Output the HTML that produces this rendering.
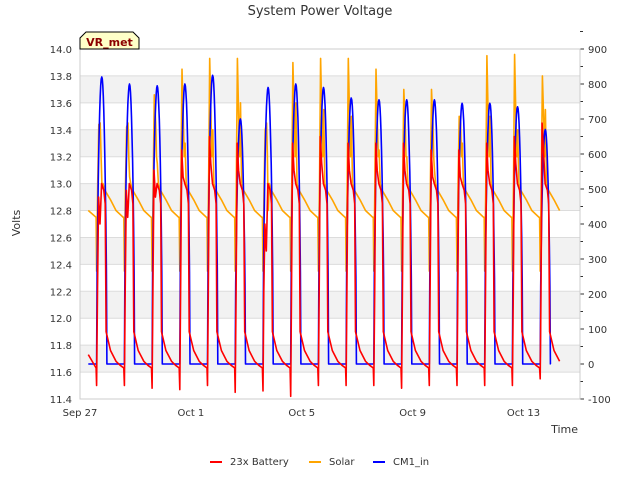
<!DOCTYPE html>
<html><head><meta charset="utf-8"><style>
body{margin:0;background:#fff;font-family:"Liberation Sans","DejaVu Sans",sans-serif}
svg text{font-family:"DejaVu Sans","Liberation Sans",sans-serif}
</style></head><body>
<svg id="c" width="640" height="480" viewBox="0 0 640 480"></svg>
<script>
// ---- data (per-day values) ----
const dayTicks = ["Sep 27","Oct 1","Oct 5","Oct 9","Oct 13"];
const dayTickPos = [0,4,8,12,16];
const leftTicks = [11.4,11.6,11.8,12.0,12.2,12.4,12.6,12.8,13.0,13.2,13.4,13.6,13.8,14.0];
const rightTicks = [-100,0,100,200,300,400,500,600,700,800,900];
const cm1Peak = [820,800,795,800,825,700,790,800,790,760,755,755,755,745,745,735,670];
const solarPeak = [13.44,13.42,13.66,13.85,13.93,13.93,13.40,13.90,13.93,13.93,13.85,13.70,13.70,13.50,13.95,13.96,13.80];
const solarSecond = [13.0,13.05,13.15,13.3,13.4,13.6,12.8,13.6,13.55,13.5,13.25,13.2,13.1,13.3,13.5,13.4,13.55];
const battPeak = [12.9,12.95,13.1,13.25,13.35,13.3,12.7,13.3,13.35,13.3,13.3,13.3,13.25,13.25,13.3,13.35,13.45];
const battMin = [11.5,11.5,11.48,11.47,11.5,11.45,11.46,11.42,11.5,11.5,11.5,11.48,11.5,11.5,11.5,11.5,11.55];

const svg=document.getElementById('c');
const NS='http://www.w3.org/2000/svg';
const L=80,R=580,T=49,B=399;
const X=d=>L+d*27.72;
const YL=v=>B-(v-11.4)/2.6*(B-T);
const YR=v=>B-(v+100)/1000*(B-T);
function el(t,a,p){const e=document.createElementNS(NS,t);for(const k in a)e.setAttribute(k,a[k]);(p||svg).appendChild(e);return e;}

for(let v=11.6;v<14;v+=0.4){const r=el('rect',{x:L,y:YL(v+0.2),width:R-L,height:YL(v)-YL(v+0.2),fill:'#f2f2f2'});

}
leftTicks.forEach(v=>{const g=el('line',{x1:L,x2:R,y1:YL(v),y2:YL(v),stroke:'#dcdcdc','stroke-width':1});


const t=el('text',{x:72,y:YL(v)+4,'text-anchor':'end','font-size':10,fill:'#333'});t.textContent=v.toFixed(1);

});
rightTicks.forEach(v=>{el('line',{x1:R,x2:R+4,y1:YR(v),y2:YR(v),stroke:'#333'});
el('line',{x1:R,x2:R+3,y1:YR(v+50),y2:YR(v+50),stroke:'#333'});
const t=el('text',{x:588,y:YR(v)+4,'font-size':10,fill:'#333'});t.textContent=v;

});
el('rect',{x:L,y:T,width:R-L,height:B-T,fill:'none',stroke:'#ccc'});
dayTicks.forEach((s,i)=>{const t=el('text',{x:X(dayTickPos[i]),y:416,'text-anchor':'middle','font-size':10,fill:'#333'});t.textContent=s;

});

function bell(f){return Math.sin(Math.PI*f);}
let batt=[],sol=[],cm=[];
const N=cm1Peak.length;
batt.push([0.3,11.73]);sol.push([0.3,12.8]);cm.push([0.3,0]);
for(let d=0;d<N;d++){
  cm.push([d+0.6,0]);
  for(let k=0;k<=20;k++){const f=k/20;cm.push([d+0.6+f*0.37,cm1Peak[d]*Math.pow(bell(f),0.6)]);}
  cm.push([d+0.98,0]);cm.push([d+1.58,0]);
  batt.push([d+0.58,11.63]);batt.push([d+0.6,battMin[d]]);batt.push([d+0.63,12.2]);
  batt.push([d+0.67,battPeak[d]]);batt.push([d+0.72,battPeak[d]-0.2]);batt.push([d+0.78,13.0]);
  batt.push([d+0.86,12.95]);batt.push([d+0.91,12.85]);batt.push([d+0.94,11.9]);
  batt.push([d+1.1,11.76]);batt.push([d+1.3,11.68]);batt.push([d+1.45,11.65]);
  sol.push([d+0.58,12.75]);sol.push([d+0.6,12.35]);sol.push([d+0.64,13.0]);
  sol.push([d+0.68,solarPeak[d]]);sol.push([d+0.73,13.45]);sol.push([d+0.76,13.2]);
  sol.push([d+0.79,solarSecond[d]]);sol.push([d+0.83,13.0]);sol.push([d+0.9,12.95]);
  sol.push([d+1.1,12.88]);sol.push([d+1.3,12.8]);sol.push([d+1.56,12.75]);
}
function line(pts,fy,col,name){const p=el('polyline',{points:pts.filter(q=>q[0]<=17.35).map(q=>X(q[0]).toFixed(1)+','+fy(q[1]).toFixed(1)).join(' '),fill:'none',stroke:col,'stroke-width':1.6,'stroke-linejoin':'round'});

}
line(sol,YL,'#FFA500','series-solar');
line(cm,YR,'#0000ff','series-cm1-in');
line(batt,YL,'#ff0000','series-23x-battery');

let t=el('text',{x:320,y:15,'text-anchor':'middle','font-size':13,fill:'#333'});t.textContent='System Power Voltage';

t=el('text',{x:20,y:223,'text-anchor':'middle','font-size':11,fill:'#333',transform:'rotate(-90 20 223)'});t.textContent='Volts';

t=el('text',{x:578,y:433,'text-anchor':'end','font-size':11,fill:'#333'});t.textContent='Time';

let b=el('polygon',{points:'80,49 80,38 86,32 133,32 139,38 139,49',fill:'#ffffc8',stroke:'#000'});

t=el('text',{x:109.5,y:46,'text-anchor':'middle','font-size':11,'font-weight':'bold',fill:'#8b0000'});t.textContent='VR_met';

const leg=[['23x Battery','#ff0000',210],['Solar','#FFA500',309],['CM1_in','#0000ff',373]];
leg.forEach(l=>{const g=el('g',{});
el('line',{x1:l[2],x2:l[2]+12,y1:462,y2:462,stroke:l[1],'stroke-width':2},g);
const s=el('text',{x:l[2]+20,y:465,'font-size':10,fill:'#333'},g);s.textContent=l[0];});
</script>
</body></html>
